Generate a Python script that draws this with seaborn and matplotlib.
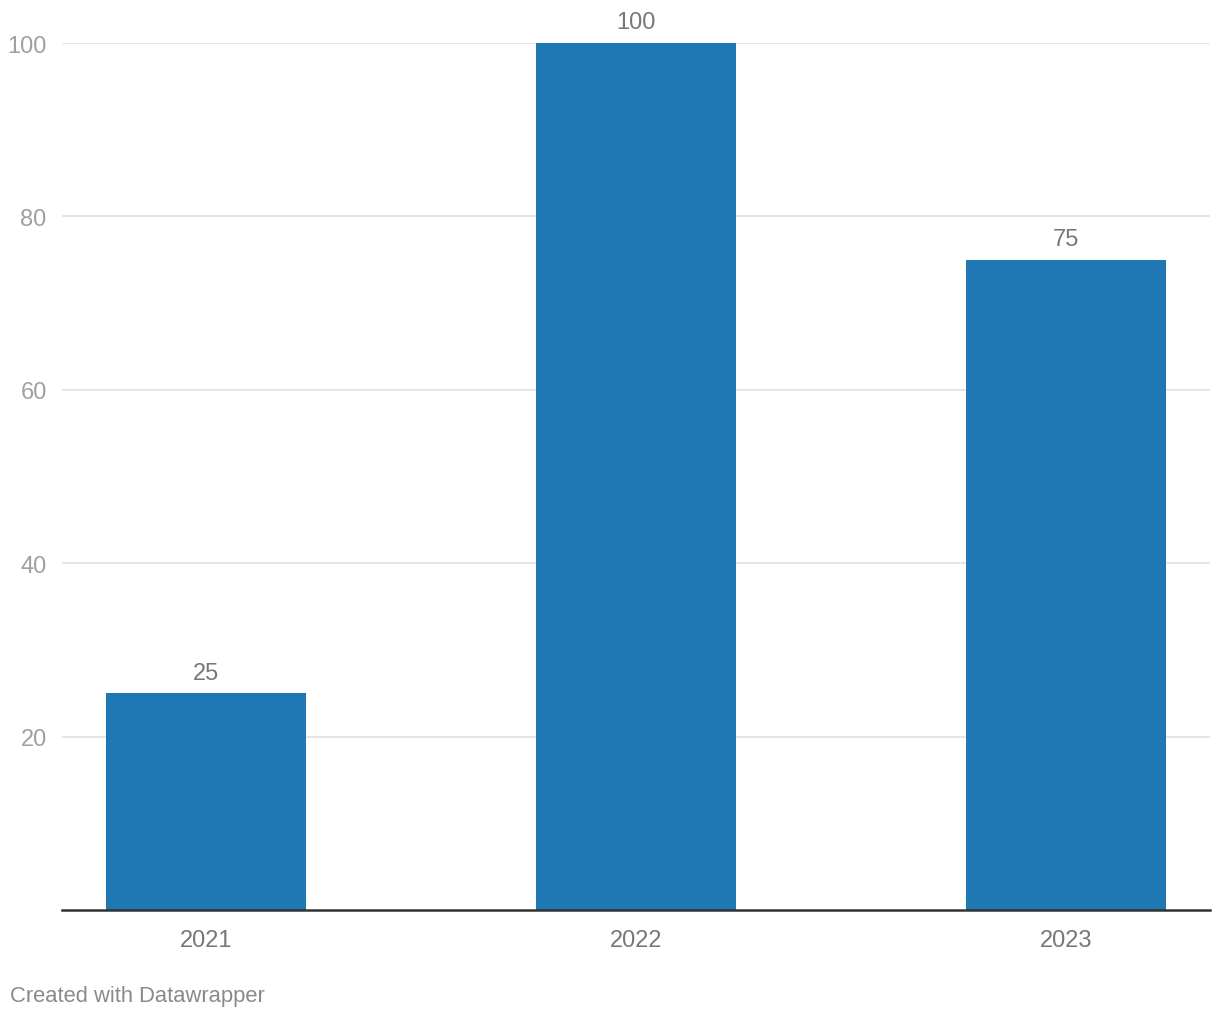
import matplotlib
matplotlib.use('Agg')
import matplotlib.pyplot as plt
import seaborn as sns
import pandas as pd

years = ['2021', '2022', '2023']
values = [25, 100, 75]
y_ticks = [20, 40, 60, 80, 100]

df = pd.DataFrame({'year': years, 'value': values})

sns.set_style('white')
plt.rcParams['font.family'] = ['Liberation Sans', 'DejaVu Sans']

fig = plt.figure(figsize=(12.2, 10.2), dpi=100)
ax = fig.add_axes([62 / 1220, 109 / 1020, (1210 - 62) / 1220, (911 - 44) / 1020])

sns.barplot(data=df, x='year', y='value', color='#1f78b4', saturation=1,
            width=0.465, linewidth=0, ax=ax, zorder=3)

ax.set_xlim(-0.335, 2.335)
ax.set_ylim(0, 100)
ax.set_yticks(y_ticks)
ax.grid(axis='y', color='#e0e0e0', linewidth=1.2, zorder=0)
ax.set_axisbelow(True)

for s in ['top', 'right', 'left']:
    ax.spines[s].set_visible(False)
ax.spines['bottom'].set_color('#333333')
ax.spines['bottom'].set_linewidth(1.8)
ax.spines['bottom'].set_zorder(4)

ax.set_xlabel('')
ax.set_ylabel('')
ax.tick_params(axis='y', length=0, pad=11, labelsize=17, labelcolor='#a0a0a0')
ax.tick_params(axis='x', length=0, pad=14, labelsize=17, labelcolor='#777777')

# value labels
for i, v in enumerate(values):
    ax.text(i, v + 1.1, str(v), ha='center', va='bottom', fontsize=17,
            color='#777777', clip_on=False)

fig.text(10 / 1220, 1 - 997 / 1020, 'Created with Datawrapper', fontsize=15.8,
         color='#8a8a8a', ha='left', va='center')

fig.savefig('out.png', dpi=100)
